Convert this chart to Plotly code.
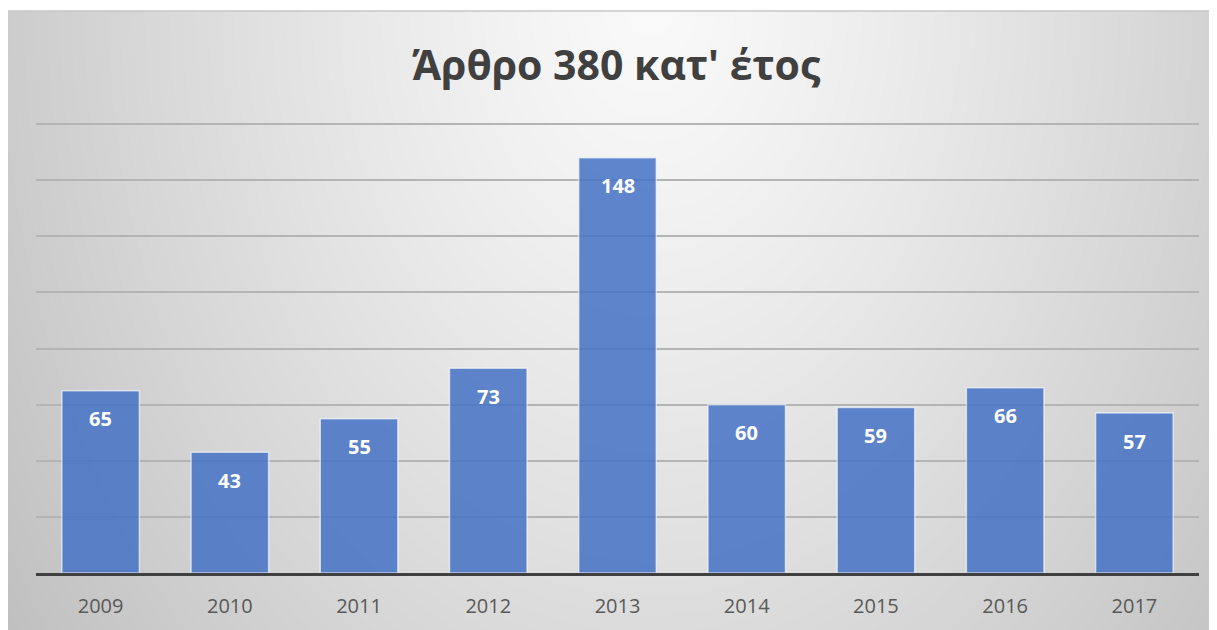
import base64
import struct
import zlib

import numpy as np
import plotly.graph_objects as go

years = [2009, 2010, 2011, 2012, 2013, 2014, 2015, 2016, 2017]
cases = [65, 43, 55, 73, 148, 60, 59, 66, 57]
title_text = "Άρθρο 380 κατ' έτος"

# the page puts the figure 8px in from the top-left corner
OFF = 8
W, H = 1217 - OFF, 630 - OFF
box_x0, box_y0 = 0, 11 - OFF          # grey chart box, figure pixels
m_l, m_r, m_t, m_b = 36 - OFF, 18, 123 - OFF, 57


def make_png(arr):
    """Grayscale uint8 array -> PNG bytes (no PIL needed)."""
    h, w = arr.shape
    raw = b"".join(b"\x00" + arr[i].tobytes() for i in range(h))

    def chunk(tag, data):
        c = struct.pack(">I", len(data)) + tag + data
        return c + struct.pack(">I", zlib.crc32(tag + data) & 0xFFFFFFFF)

    ihdr = struct.pack(">IIBBBBB", w, h, 8, 0, 0, 0, 0)
    return (b"\x89PNG\r\n\x1a\n" + chunk(b"IHDR", ihdr)
            + chunk(b"IDAT", zlib.compress(raw, 9)) + chunk(b"IEND", b""))


# radial grey gradient, light at top centre, darker to the edges
bw, bh = W - box_x0, H - box_y0
yy, xx = np.mgrid[0:bh, 0:bw]
rx = (xx + box_x0 + OFF - 650) / 720.0
ry = (yy + box_y0 + OFF) / 1000.0
r = np.clip(np.sqrt(rx ** 2 + ry ** 2), 0, 1.2)
grey = np.clip(250 - 52 * r ** 1.2, 0, 255).astype(np.uint8)
bg_uri = "data:image/png;base64," + base64.b64encode(make_png(grey)).decode()

pw = W - m_l - m_r
ph = H - m_t - m_b


def px_x(x):
    return (x - m_l) / pw


def px_y(y):
    return 1 - (y - m_t) / ph


fig = go.Figure()
fig.add_trace(go.Bar(
    x=years, y=cases,
    marker=dict(color="rgba(68,114,196,0.85)",
                line=dict(color="rgba(255,255,255,0.6)", width=1.5)),
    hoverinfo="x+y",
))

# data labels near the top of each bar
for yr, v in zip(years, cases):
    fig.add_annotation(x=yr, y=v, text=f"<b>{v}</b>", showarrow=False,
                       yshift=-28, yanchor="middle",
                       font=dict(family="Open Sans", size=20, color="white"))

fig.update_layout(
    width=W, height=H,
    margin=dict(l=m_l, r=m_r, t=m_t, b=m_b, autoexpand=False),
    paper_bgcolor="white",
    plot_bgcolor="rgba(0,0,0,0)",
    showlegend=False,
    bargap=0.4,
    title=dict(text=f"<b>{title_text}</b>", x=0.503, xanchor="center",
               y=1 - (66 - OFF) / H, yanchor="middle", yref="container",
               font=dict(family="Open Sans", size=41, color="#404040")),
    xaxis=dict(type="linear", range=[min(years) - 0.5, max(years) + 0.5], dtick=1,
               tickformat="d", showgrid=False, zeroline=False, showline=True,
               linecolor="#404040", linewidth=3,
               ticks="", ticklabelstandoff=13, automargin=False,
               tickfont=dict(family="Open Sans", size=20, color="#595959")),
    yaxis=dict(range=[0, 160.4], dtick=20, showticklabels=False, automargin=False,
               gridcolor="#b4b4b4", gridwidth=1.5, zeroline=False),
    images=[dict(source=bg_uri, xref="paper", yref="paper",
                 x=px_x(box_x0), y=px_y(box_y0), sizex=bw / pw, sizey=bh / ph,
                 xanchor="left", yanchor="top", sizing="stretch", layer="below")],
    shapes=[dict(type="rect", xref="paper", yref="paper",
                 x0=px_x(box_x0 - 2), x1=px_x(W + 5), y0=px_y(box_y0), y1=px_y(H + 5),
                 line=dict(color="#c6c6c6", width=1.5), fillcolor="rgba(0,0,0,0)",
                 layer="below")],
)

fig.write_html("out.html")
